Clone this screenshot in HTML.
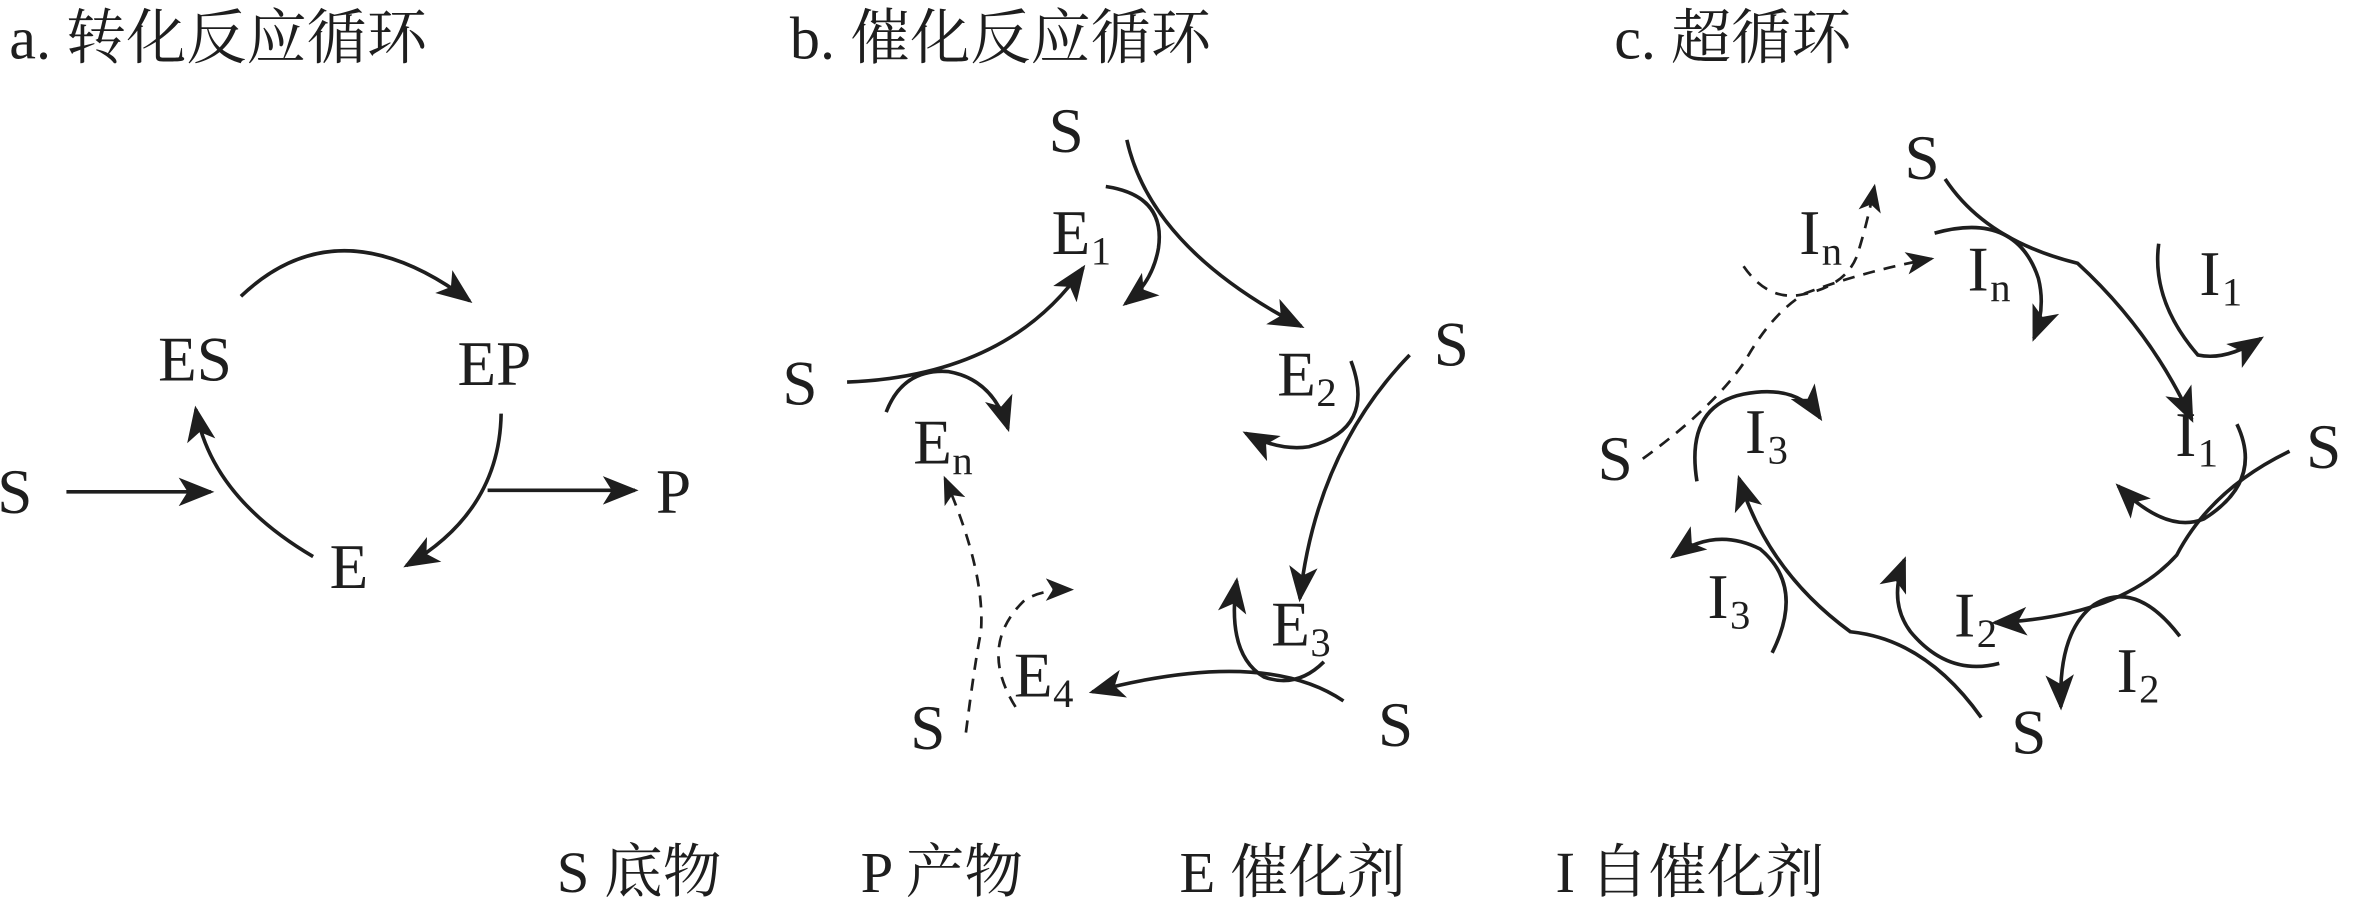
<!DOCTYPE html>
<html><head><meta charset="utf-8"><style>
html,body{margin:0;padding:0;background:#fff;}
svg{display:block;}
text{font-family:"Liberation Serif","Noto Serif CJK SC",serif;fill:#1e1e1e;}
.t{font-size:40px;}
.l{font-size:42px;}
.sub{font-size:27px;}
.g{font-size:39px;}
path{fill:none;stroke:#1e1e1e;stroke-width:2.4;}
.d{stroke-dasharray:8 6;stroke-width:1.8;}
</style></head><body>
<svg width="2359" height="904" viewBox="0 0 1568 601" xmlns="http://www.w3.org/2000/svg">
<defs>
<marker id="a" viewBox="0 0 20 16" refX="18" refY="8" markerWidth="24" markerHeight="19" markerUnits="userSpaceOnUse" orient="auto">
<path d="M0,0 L20,8 L0,16 L5,8 Z" style="fill:#1e1e1e;stroke:none"/>
</marker>
<marker id="b" viewBox="0 0 20 16" refX="18" refY="8" markerWidth="19" markerHeight="15" markerUnits="userSpaceOnUse" orient="auto">
<path d="M0,0 L20,8 L0,16 L5,8 Z" style="fill:#1e1e1e;stroke:none"/>
</marker>
</defs>
<!-- titles -->
<text class="t" x="6" y="39">a. 转化反应循环</text>
<text class="t" x="525" y="39">b. 催化反应循环</text>
<text class="t" x="1073" y="39">c. 超循环</text>

<!-- panel a -->
<text class="l" x="105" y="253">ES</text>
<text class="l" x="304" y="256">EP</text>
<text class="l" x="-2" y="341">S</text>
<text class="l" x="436" y="341">P</text>
<text class="l" x="219" y="391">E</text>
<path d="M160,197 Q225,135 312,200" marker-end="url(#a)"/>
<path d="M208,370 Q140,330 130,272" marker-end="url(#a)"/>
<path d="M333,275 Q332,340 270,376" marker-end="url(#a)"/>
<path d="M44,327 L140,327" marker-end="url(#a)"/>
<path d="M324,326 L422,326" marker-end="url(#a)"/>

<!-- panel b -->
<text class="l" x="697" y="101">S</text>
<text class="l" x="699" y="169">E</text><text class="sub" x="725" y="176">1</text>
<text class="l" x="520" y="269">S</text>
<text class="l" x="607" y="308">E</text><text class="sub" x="633" y="315">n</text>
<text class="l" x="849" y="263">E</text><text class="sub" x="875" y="270">2</text>
<text class="l" x="953" y="243">S</text>
<text class="l" x="845" y="429">E</text><text class="sub" x="871" y="436">3</text>
<text class="l" x="916" y="496">S</text>
<text class="l" x="674" y="463">E</text><text class="sub" x="700" y="470">4</text>
<text class="l" x="605" y="498">S</text>
<path d="M749,93 Q765,165 865,217" marker-end="url(#a)"/>
<path d="M735,124 Q775,130 770,165 Q766,188 748,202" marker-end="url(#a)"/>
<path d="M563,254 Q670,250 720,178" marker-end="url(#a)"/>
<path d="M589,274 Q600,245 630,247 Q660,252 670,285" marker-end="url(#a)"/>
<path d="M937,236 Q875,300 864,398" marker-end="url(#a)"/>
<path d="M898,240 Q915,285 870,297 Q850,300 828,288" marker-end="url(#a)"/>
<path d="M893,466 Q840,430 726,460" marker-end="url(#a)"/>
<path d="M880,440 Q862,458 840,450 Q815,435 822,386" marker-end="url(#a)"/>
<path class="d" d="M642,487 Q648,440 652,420 Q655,380 628,318" marker-end="url(#b)"/>
<path class="d" d="M675,470 Q650,430 680,400 Q690,392 712,392" marker-end="url(#b)"/>

<!-- panel c -->
<text class="l" x="1266" y="119">S</text>
<text class="l" x="1196" y="169">I</text><text class="sub" x="1211" y="176">n</text>
<text class="l" x="1308" y="193">I</text><text class="sub" x="1323" y="200">n</text>
<text class="l" x="1462" y="196">I</text><text class="sub" x="1477" y="203">1</text>
<text class="l" x="1446" y="303">I</text><text class="sub" x="1461" y="310">1</text>
<text class="l" x="1533" y="311">S</text>
<text class="l" x="1299" y="423">I</text><text class="sub" x="1314" y="430">2</text>
<text class="l" x="1407" y="460">I</text><text class="sub" x="1422" y="467">2</text>
<text class="l" x="1337" y="501">S</text>
<text class="l" x="1160" y="301">I</text><text class="sub" x="1175" y="308">3</text>
<text class="l" x="1135" y="411">I</text><text class="sub" x="1150" y="418">3</text>
<text class="l" x="1062" y="319">S</text>
<path d="M1293,119 Q1320,160 1381,175 Q1430,220 1457,279" marker-end="url(#a)"/>
<path d="M1435,162 Q1430,200 1461,236 Q1480,240 1503,225" marker-end="url(#a)"/>
<path d="M1286,155 Q1340,140 1355,185 Q1360,205 1352,225" marker-end="url(#a)"/>
<path d="M1522,300 Q1470,325 1447,369 Q1410,410 1326,414" marker-end="url(#a)"/>
<path d="M1487,282 Q1505,320 1465,345 Q1440,355 1408,323" marker-end="url(#a)"/>
<path d="M1449,423 Q1420,385 1392,402 Q1368,420 1370,470" marker-end="url(#a)"/>
<path d="M1317,477 Q1280,425 1230,420 Q1175,380 1156,318" marker-end="url(#a)"/>
<path d="M1329,441 Q1295,450 1270,420 Q1255,400 1266,372" marker-end="url(#a)"/>
<path d="M1178,434 Q1200,390 1170,365 Q1140,350 1112,370" marker-end="url(#a)"/>
<path d="M1128,320 Q1120,270 1159,262 Q1195,255 1210,278" marker-end="url(#a)"/>
<path class="d" d="M1092,305 Q1140,270 1160,240 Q1178,208 1200,195 Q1240,180 1284,172" marker-end="url(#b)"/>
<path class="d" d="M1159,177 Q1175,200 1197,196 Q1230,190 1236,165 Q1242,145 1246,124" marker-end="url(#b)"/>

<!-- legend -->
<text class="g" x="370" y="593">S 底物</text>
<text class="g" x="572" y="593">P 产物</text>
<text class="g" x="784" y="593">E 催化剂</text>
<text class="g" x="1034" y="593">I 自催化剂</text>
</svg>
</body></html>
